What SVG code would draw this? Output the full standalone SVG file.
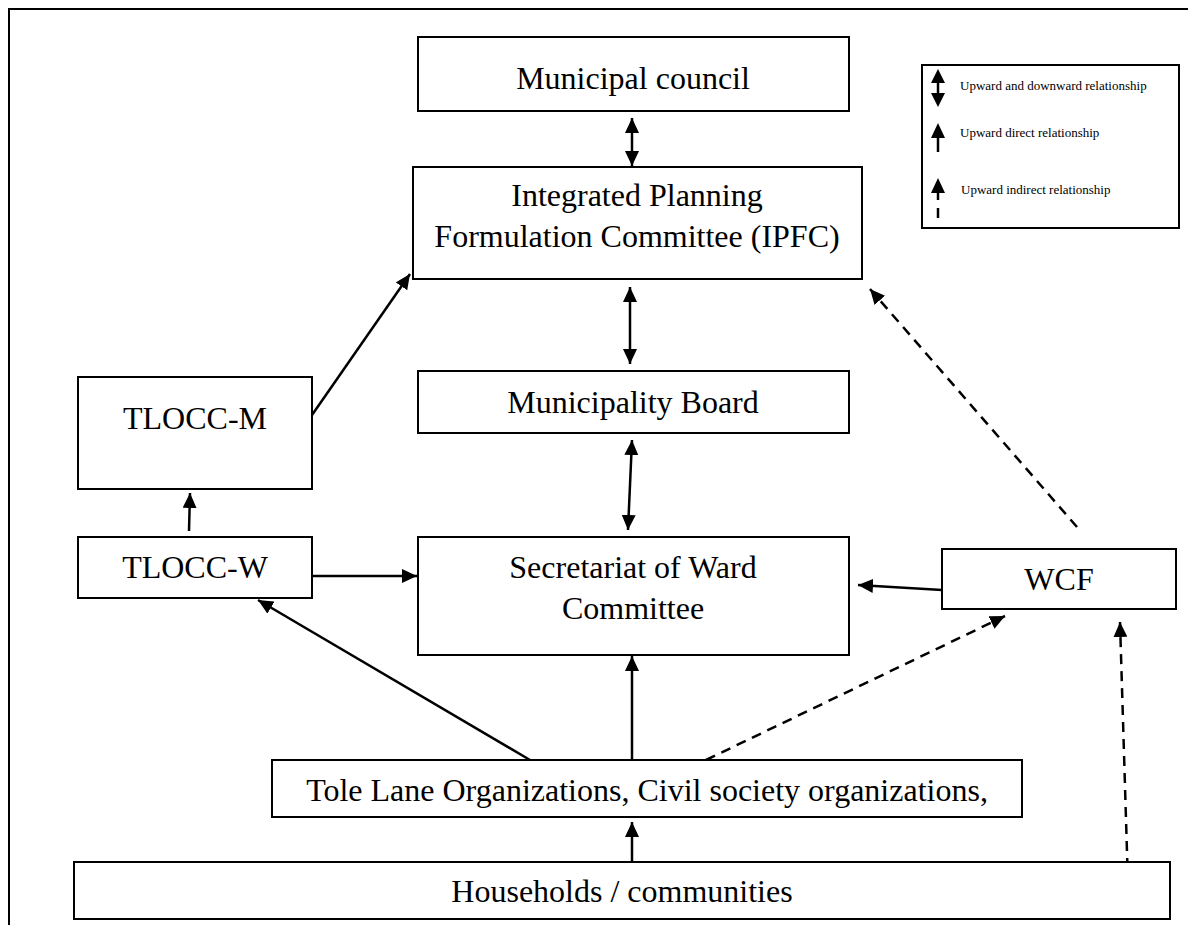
<svg xmlns="http://www.w3.org/2000/svg" width="1188" height="925" viewBox="0 0 1188 925">
  <style>
    .box { fill: #fff; stroke: #000; stroke-width: 2; }
    .lbl { font-family: "Liberation Serif", "Times New Roman", serif; font-size: 32px; fill: #000; text-anchor: middle; }
    .key { font-family: "Liberation Serif", "Times New Roman", serif; font-size: 13px; fill: #000; }
    .ln { fill: none; stroke: #000; stroke-width: 2.5; }
    .dash { stroke-dasharray: 10 7; }
  </style>
  <defs>
    <marker id="head" markerUnits="userSpaceOnUse" markerWidth="16" markerHeight="14" viewBox="0 0 16 14" refX="15" refY="7" orient="auto-start-reverse">
      <path d="M0,0 L15,7 L0,14 z" fill="#000"/>
    </marker>
  </defs>

  <rect x="0" y="0" width="1188" height="925" fill="#fff"/>
  <!-- outer frame -->
  <rect x="9" y="9" width="1200" height="940" fill="none" stroke="#000" stroke-width="2"/>

  <!-- legend -->
  <g id="legend">
    <rect class="box" x="922" y="65" width="257" height="163"/>
    <line x1="938" y1="78" x2="938" y2="98" stroke="#000" stroke-width="2.5"/>
    <polygon points="938,69 931,83 945,83" fill="#000"/>
    <polygon points="938,107 931,93 945,93" fill="#000"/>
    <text class="key" x="960" y="90">Upward and downward relationship</text>
    <polygon points="938,123 931,138 945,138" fill="#000"/>
    <line x1="938" y1="135" x2="938" y2="152" stroke="#000" stroke-width="2.5"/>
    <text class="key" x="960" y="137">Upward direct relationship</text>
    <polygon points="938,178 931,193 945,193" fill="#000"/>
    <line x1="938" y1="190" x2="938" y2="200" stroke="#000" stroke-width="2.5"/>
    <line x1="938" y1="208" x2="938" y2="218" stroke="#000" stroke-width="2.5"/>
    <text class="key" x="961" y="194">Upward indirect relationship</text>
  </g>

  <!-- connectors -->
  <g id="connectors">
    <line class="ln" x1="632" y1="118" x2="632" y2="166" marker-start="url(#head)" marker-end="url(#head)"/>
    <line class="ln" x1="630" y1="287" x2="630" y2="364" marker-start="url(#head)" marker-end="url(#head)"/>
    <line class="ln" x1="632" y1="440" x2="628" y2="530" marker-start="url(#head)" marker-end="url(#head)"/>
    <line class="ln" x1="312" y1="415" x2="410" y2="274" marker-end="url(#head)"/>
    <line class="ln" x1="189" y1="531" x2="190" y2="493" marker-end="url(#head)"/>
    <line class="ln" x1="313" y1="576" x2="417" y2="576" marker-end="url(#head)"/>
    <line class="ln" x1="942" y1="590" x2="858" y2="585" marker-end="url(#head)"/>
    <line class="ln" x1="530" y1="760" x2="258" y2="600" marker-end="url(#head)"/>
    <line class="ln" x1="632" y1="760" x2="632" y2="656" marker-end="url(#head)"/>
    <line class="ln dash" x1="706" y1="760" x2="1005" y2="616" marker-end="url(#head)"/>
    <line class="ln" x1="632" y1="861" x2="632" y2="822" marker-end="url(#head)"/>
    <line class="ln dash" x1="1128" y1="885" x2="1120" y2="622" marker-end="url(#head)"/>
    <line class="ln dash" x1="1077" y1="527" x2="870" y2="289" marker-end="url(#head)"/>
  </g>

  <g id="municipal-council">
    <rect class="box" x="418" y="37" width="431" height="74"/>
    <text class="lbl" x="633" y="89">Municipal council</text>
  </g>
  <g id="ipfc">
    <rect class="box" x="413" y="167" width="449" height="112"/>
    <text class="lbl" x="637" y="206">Integrated Planning</text>
    <text class="lbl" x="637" y="247">Formulation Committee (IPFC)</text>
  </g>
  <g id="municipality-board">
    <rect class="box" x="418" y="371" width="431" height="62"/>
    <text class="lbl" x="633" y="413">Municipality Board</text>
  </g>
  <g id="tlocc-m">
    <rect class="box" x="78" y="377" width="234" height="112"/>
    <text class="lbl" x="195" y="429">TLOCC-M</text>
  </g>
  <g id="tlocc-w">
    <rect class="box" x="78" y="537" width="234" height="61"/>
    <text class="lbl" x="195" y="578">TLOCC-W</text>
  </g>
  <g id="secretariat">
    <rect class="box" x="418" y="537" width="431" height="118"/>
    <text class="lbl" x="633" y="578">Secretariat of Ward</text>
    <text class="lbl" x="633" y="619">Committee</text>
  </g>
  <g id="wcf">
    <rect class="box" x="942" y="549" width="234" height="60"/>
    <text class="lbl" x="1059" y="590">WCF</text>
  </g>
  <g id="tole-lane">
    <rect class="box" x="272" y="760" width="750" height="57"/>
    <text class="lbl" x="647" y="801">Tole Lane Organizations, Civil society organizations,</text>
  </g>
  <g id="households">
    <rect class="box" x="74" y="862" width="1096" height="57"/>
    <text class="lbl" x="622" y="902">Households / communities</text>
  </g>
</svg>
